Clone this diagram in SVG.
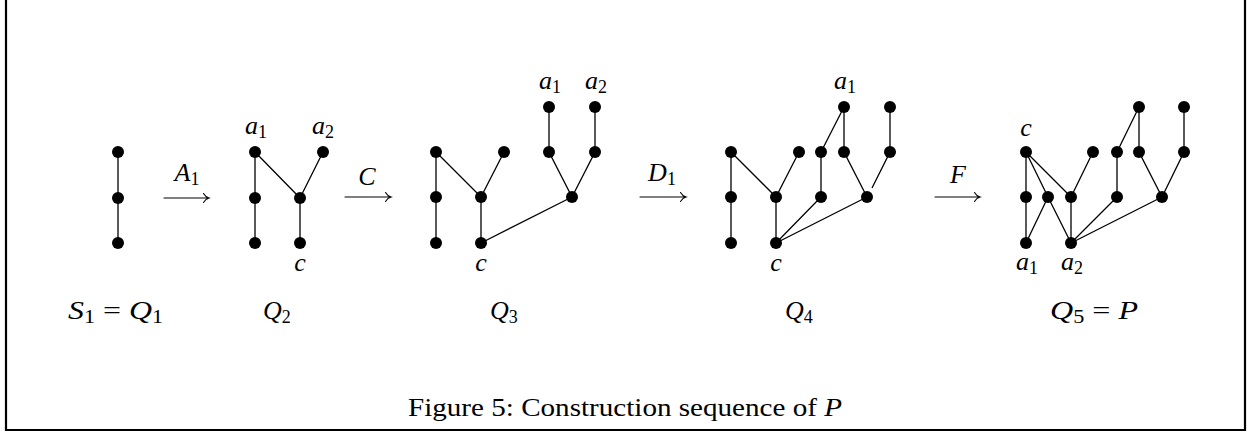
<svg xmlns="http://www.w3.org/2000/svg" width="1248" height="433" viewBox="0 0 1248 433">
<style>
.v{fill:#000}
.e{stroke:#000;stroke-width:1.3;fill:none}
.ar{stroke:#000;stroke-width:1.1;fill:none;stroke-linecap:round}
.m{font-family:"Liberation Serif",serif;font-style:italic;font-size:26px;fill:#000}
.s{font-style:normal;font-size:18px}
.n{font-style:normal}
.cap{font-family:"Liberation Serif",serif;font-size:26px;fill:#000}
.fr{stroke:#000;stroke-width:2.2;fill:none}
</style>
<rect width="1248" height="433" fill="#fff"/>
<path class="fr" d="M6,0 V430 H1245 V0"/>
<g id="connectors">
<path class="e" d="M118,152 V243"/>
<path class="e" d="M255,152 V243 M255,152 L300,198 M323,152 L300,198 M300,198 V243"/>
<path class="e" d="M436,152 V243 M436,152 L481,197 M504,152 L481,197 M481,197 V243 M549,107 V152 L572,197 M595,107 V152 L572,197 M572,197 L481,243"/>
<path class="e" d="M731,152 V243 M731,152 L776,197 M799,152 L776,197 M776,197 V243 M821,152 V197 L776,243 M844,107 L821,152 M844,107 V152 L867,197 M890,107 V152 L872,188 M867,197 L776,243"/>
<path class="e" d="M1026,152 V243 M1026,152 L1048,197 M1026,152 L1071,197 M1048,197 L1026,243 M1048,197 L1071,243 M1071,197 V243 M1093,152 L1071,197 M1117,152 V197 L1071,243 M1139,107 L1117,152 M1139,107 V152 L1162,197 M1184,107 V152 L1162,197 M1162,197 L1071,243"/>
<g id="arrow-A1"><path class="ar" d="M164,198 H209 M203.5,193.5 Q205.5,197 209,198 Q205.5,199 203.5,202.5"/></g>
<g id="arrow-C"><path class="ar" d="M345,197 H391 M385.5,192.5 Q387.5,196 391,197 Q387.5,198 385.5,201.5"/></g>
<g id="arrow-D1"><path class="ar" d="M640,197 H686 M680.5,192.5 Q682.5,196 686,197 Q682.5,198 680.5,201.5"/></g>
<g id="arrow-F"><path class="ar" d="M935,197 H980 M974.5,192.5 Q976.5,196 980,197 Q976.5,198 974.5,201.5"/></g>
</g>
<g id="Q1">
<circle class="v" cx="118" cy="152" r="6"/><circle class="v" cx="118" cy="198" r="6"/><circle class="v" cx="118" cy="243" r="6"/>
</g>
<g id="Q2">
<circle class="v" cx="255" cy="152" r="6"/><circle class="v" cx="255" cy="198" r="6"/><circle class="v" cx="255" cy="243" r="6"/>
<circle class="v" cx="323" cy="152" r="6"/><circle class="v" cx="300" cy="198" r="6"/><circle class="v" cx="300" cy="243" r="6"/>
</g>
<g id="Q3">
<circle class="v" cx="436" cy="152" r="6"/><circle class="v" cx="436" cy="197" r="6"/><circle class="v" cx="436" cy="243" r="6"/>
<circle class="v" cx="481" cy="197" r="6"/><circle class="v" cx="481" cy="243" r="6"/><circle class="v" cx="504" cy="152" r="6"/>
<circle class="v" cx="549" cy="107" r="6"/><circle class="v" cx="549" cy="152" r="6"/><circle class="v" cx="595" cy="107" r="6"/><circle class="v" cx="595" cy="152" r="6"/>
<circle class="v" cx="572" cy="197" r="6"/>
</g>
<g id="Q4">
<circle class="v" cx="731" cy="152" r="6"/><circle class="v" cx="731" cy="197" r="6"/><circle class="v" cx="731" cy="243" r="6"/>
<circle class="v" cx="776" cy="197" r="6"/><circle class="v" cx="776" cy="243" r="6"/><circle class="v" cx="799" cy="152" r="6"/>
<circle class="v" cx="821" cy="152" r="6"/><circle class="v" cx="821" cy="197" r="6"/>
<circle class="v" cx="844" cy="107" r="6"/><circle class="v" cx="844" cy="152" r="6"/><circle class="v" cx="890" cy="107" r="6"/><circle class="v" cx="890" cy="152" r="6"/>
<circle class="v" cx="867" cy="197" r="6"/>
</g>
<g id="Q5">
<circle class="v" cx="1026" cy="152" r="6"/><circle class="v" cx="1026" cy="197" r="6"/><circle class="v" cx="1026" cy="243" r="6"/>
<circle class="v" cx="1048" cy="197" r="6"/><circle class="v" cx="1071" cy="197" r="6"/><circle class="v" cx="1071" cy="243" r="6"/>
<circle class="v" cx="1093" cy="152" r="6"/><circle class="v" cx="1117" cy="152" r="6"/><circle class="v" cx="1117" cy="197" r="6"/>
<circle class="v" cx="1139" cy="107" r="6"/><circle class="v" cx="1139" cy="152" r="6"/><circle class="v" cx="1184" cy="107" r="6"/><circle class="v" cx="1184" cy="152" r="6"/>
<circle class="v" cx="1162" cy="197" r="6"/>
</g>
<g id="labels">
<text class="m" x="256" y="134" text-anchor="middle">a<tspan class="s" dy="4">1</tspan></text>
<text class="m" x="323" y="134" text-anchor="middle">a<tspan class="s" dy="4">2</tspan></text>
<text class="m" x="300" y="271" text-anchor="middle">c</text>
<text class="m" x="550" y="89" text-anchor="middle">a<tspan class="s" dy="4">1</tspan></text>
<text class="m" x="596" y="89" text-anchor="middle">a<tspan class="s" dy="4">2</tspan></text>
<text class="m" x="481" y="271" text-anchor="middle">c</text>
<text class="m" x="845" y="89" text-anchor="middle">a<tspan class="s" dy="4">1</tspan></text>
<text class="m" x="776" y="271" text-anchor="middle">c</text>
<text class="m" x="1026" y="136" text-anchor="middle">c</text>
<text class="m" x="1027" y="270" text-anchor="middle">a<tspan class="s" dy="4">1</tspan></text>
<text class="m" x="1072" y="270" text-anchor="middle">a<tspan class="s" dy="4">2</tspan></text>
<text class="m" x="187" y="181" text-anchor="middle">A<tspan class="s" dy="4">1</tspan></text>
<text class="m" x="367" y="185" text-anchor="middle">C</text>
<text class="m" x="662" y="181" text-anchor="middle">D<tspan class="s" dy="4">1</tspan></text>
<text class="m" x="958" y="183" text-anchor="middle">F</text>
<text class="m" x="68" y="319" textLength="95" lengthAdjust="spacingAndGlyphs">S<tspan class="s" dy="4">1</tspan><tspan class="n" dy="-4"> = </tspan>Q<tspan class="s" dy="4">1</tspan></text>
<text class="m" x="263" y="319">Q<tspan class="s" dy="4">2</tspan></text>
<text class="m" x="490" y="319">Q<tspan class="s" dy="4">3</tspan></text>
<text class="m" x="785" y="319">Q<tspan class="s" dy="4">4</tspan></text>
<text class="m" x="1050" y="319" textLength="88" lengthAdjust="spacingAndGlyphs">Q<tspan class="s" dy="4">5</tspan><tspan class="n" dy="-4"> = </tspan>P</text>
<text class="cap" x="408" y="416" textLength="434" lengthAdjust="spacingAndGlyphs">Figure 5: Construction sequence of <tspan style="font-style:italic">P</tspan></text>
</g>
</svg>
